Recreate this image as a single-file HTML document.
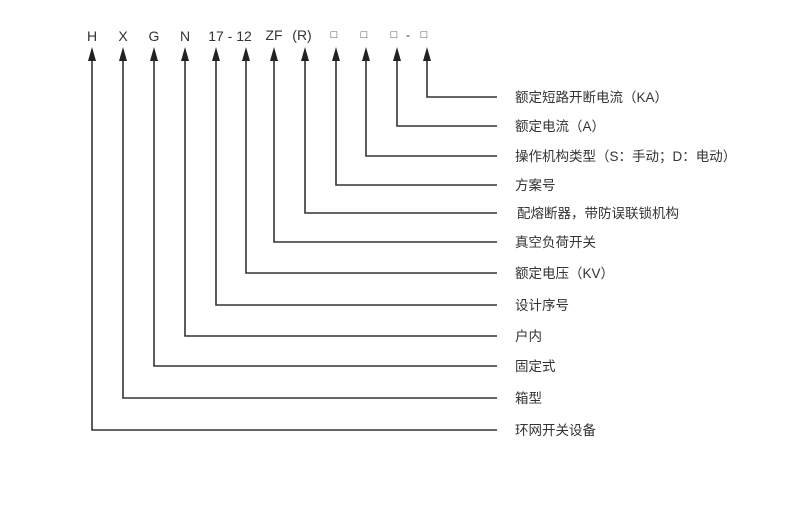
<!DOCTYPE html>
<html><head><meta charset="utf-8"><style>
body{margin:0;background:#fff;}
svg text{font-family:"Liberation Sans","Noto Sans CJK SC",sans-serif;fill:#333;}
</style></head><body>
<svg width="800" height="500" viewBox="0 0 800 500" xmlns="http://www.w3.org/2000/svg">
<g font-size="14" text-anchor="middle">
<text x="92" y="41">H</text>
<text x="123" y="41">X</text>
<text x="154" y="41">G</text>
<text x="185" y="41">N</text>
<text x="230" y="41">17 - 12</text>
<text x="274" y="40">ZF</text>
<text x="302" y="40">(R)</text>
<text x="334" y="38" font-size="11">□</text>
<text x="364" y="38" font-size="11">□</text>
<text x="394" y="38" font-size="11">□</text>
<text x="408" y="39" font-size="12">-</text>
<text x="424" y="38" font-size="11">□</text>
</g>
<g stroke="#333" stroke-width="1.6" fill="none">
<polyline points="427,60 427,97 497,97"/>
<polyline points="397,60 397,126 497,126"/>
<polyline points="366,60 366,156 497,156"/>
<polyline points="336,60 336,185 497,185"/>
<polyline points="305,60 305,213 497,213"/>
<polyline points="274,60 274,242 497,242"/>
<polyline points="246,60 246,273 497,273"/>
<polyline points="216,60 216,305 497,305"/>
<polyline points="185,60 185,336 497,336"/>
<polyline points="154,60 154,366 497,366"/>
<polyline points="123,60 123,398 497,398"/>
<polyline points="92,60 92,430 497,430"/>
</g>
<g fill="#222">
<polygon points="92,47 88,61 96,61"/>
<polygon points="123,47 119,61 127,61"/>
<polygon points="154,47 150,61 158,61"/>
<polygon points="185,47 181,61 189,61"/>
<polygon points="216,47 212,61 220,61"/>
<polygon points="246,47 242,61 250,61"/>
<polygon points="274,47 270,61 278,61"/>
<polygon points="305,47 301,61 309,61"/>
<polygon points="336,47 332,61 340,61"/>
<polygon points="366,47 362,61 370,61"/>
<polygon points="397,47 393,61 401,61"/>
<polygon points="427,47 423,61 431,61"/>
</g>
<g font-size="13.5">
<text x="515" y="102">额定短路开断电流（KA）</text>
<text x="515" y="131">额定电流（A）</text>
<text x="515" y="161">操作机构类型（S：手动；D：电动）</text>
<text x="515" y="190">方案号</text>
<text x="517" y="218">配熔断器，带防误联锁机构</text>
<text x="515" y="247">真空负荷开关</text>
<text x="515" y="278">额定电压（KV）</text>
<text x="515" y="310">设计序号</text>
<text x="515" y="341">户内</text>
<text x="515" y="371">固定式</text>
<text x="515" y="403">箱型</text>
<text x="515" y="435">环网开关设备</text>
</g>
</svg>
</body></html>
